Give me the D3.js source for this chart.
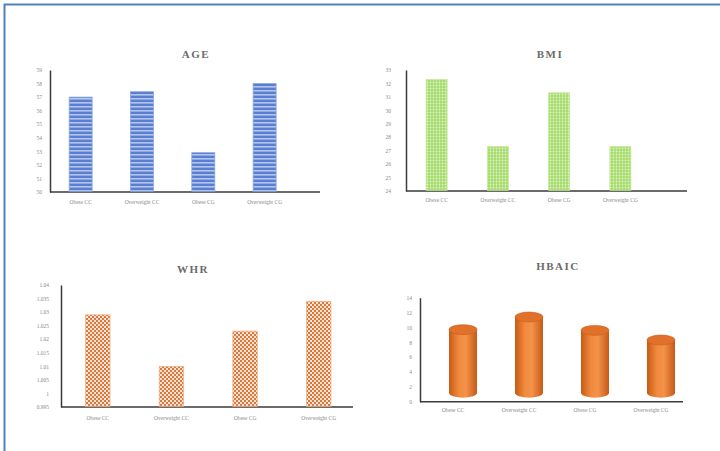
<!DOCTYPE html>
<html>
<head>
<meta charset="utf-8">
<script src="https://cdn.jsdelivr.net/npm/d3@7"></script>
<style>
  body { margin:0; background:#fff; }
  svg { display:block; }
</style>
</head>
<body>
<svg id="chart" width="720" height="451"></svg>
<script>
// datos
var categories = ["Obese CC","Overweight CC","Obese CG","Overweight CG"];

var ageValues = [57.0, 57.4, 52.9, 58.0];
var ageTicks = [50,51,52,53,54,55,56,57,58,59];

var bmiValues = [32.3, 27.3, 31.3, 27.3];
var bmiTicks = [24,25,26,27,28,29,30,31,32,33];

var whrValues = [1.029, 1.010, 1.023, 1.034];
var whrTicks = [0.995,1,1.005,1.01,1.015,1.02,1.025,1.03,1.035,1.04];

var hbaicValues = [9.7, 11.4, 9.6, 8.3];
var hbaicTicks = [0,2,4,6,8,10,12,14];

var svg = d3.select("#chart");
var defs = svg.append("defs");

// patrones de relleno
var pAge = defs.append("pattern").attr("id","pAge").attr("patternUnits","userSpaceOnUse")
  .attr("width",4).attr("height",4);
pAge.append("rect").attr("width",4).attr("height",4).attr("fill","#5a7fd0");
pAge.append("rect").attr("y",2).attr("width",4).attr("height",1.6).attr("fill","#b3c5ee");

var pBmi = defs.append("pattern").attr("id","pBmi").attr("patternUnits","userSpaceOnUse")
  .attr("width",3).attr("height",3);
pBmi.append("rect").attr("width",3).attr("height",3).attr("fill","#a6dc6c");
pBmi.append("circle").attr("cx",1.5).attr("cy",1.5).attr("r",0.9).attr("fill","#dff3c8");

var pWhr = defs.append("pattern").attr("id","pWhr").attr("patternUnits","userSpaceOnUse")
  .attr("width",4).attr("height",4);
pWhr.append("rect").attr("width",4).attr("height",4).attr("fill","#fbe3d2");
pWhr.append("rect").attr("width",2).attr("height",2).attr("fill","#d8783f");
pWhr.append("rect").attr("x",2).attr("y",2).attr("width",2).attr("height",2).attr("fill","#d8783f");

var gCyl = defs.append("linearGradient").attr("id","gCyl").attr("x1","0").attr("x2","1");
gCyl.append("stop").attr("offset","0").attr("stop-color","#c85a14");
gCyl.append("stop").attr("offset","0.35").attr("stop-color","#f08a3e");
gCyl.append("stop").attr("offset","0.6").attr("stop-color","#f4924a");
gCyl.append("stop").attr("offset","1").attr("stop-color","#c55a17");

// marco azul
svg.append("rect")
  .attr("x",4.5).attr("y",4.5).attr("width",730).attr("height",460)
  .attr("fill","none").attr("stroke","#4f81bd").attr("stroke-width",2);

var panels = [
  {title:"AGE", values:ageValues, ticks:ageTicks, domain:[50,59], x0:50, x1:295.3, axisEnd:320,
   yTop:70, yBot:192, barW:23, fill:"url(#pAge)", stroke:"#8aa6e0", titleX:196, titleY:58, catY:204, tickGap:8},
  {title:"BMI", values:bmiValues, ticks:bmiTicks, domain:[24,33], x0:406, x1:651, axisEnd:687,
   yTop:70, yBot:191, barW:21, fill:"url(#pBmi)", stroke:"#c4eb98", titleX:550, titleY:58, catY:202, tickGap:15},
  {title:"WHR", values:whrValues, ticks:whrTicks, domain:[0.995,1.04], x0:61, x1:355.5, axisEnd:353,
   yTop:285, yBot:407, barW:24.5, fill:"url(#pWhr)", stroke:"#f3b58a", titleX:193, titleY:273, catY:420, tickGap:12},
  {title:"HBAIC", values:hbaicValues, ticks:hbaicTicks, domain:[0,14], x0:420, x1:684, axisEnd:683,
   yTop:297.7, yBot:401.7, barW:28, cyl:true, titleX:558, titleY:270, catY:412, tickGap:8}
];

panels.forEach(function(p){
  var g = svg.append("g");
  var x = d3.scaleBand().domain(categories).range([p.x0,p.x1]);
  var y = d3.scaleLinear().domain(p.domain).range([p.yBot,p.yTop]);

  g.append("text").attr("x",p.titleX).attr("y",p.titleY)
    .attr("text-anchor","middle")
    .attr("font-family","Liberation Serif, serif").attr("font-size",11).attr("font-weight","bold")
    .attr("letter-spacing",1.5).attr("fill","#6b6b6b").text(p.title);

  // eje y
  var yAxis = d3.axisLeft(y).tickValues(p.ticks).tickSize(0).tickPadding(p.tickGap)
    .tickFormat(function(d){return String(d);});
  var ya = g.append("g").attr("transform","translate("+p.x0+",0)").call(yAxis);
  ya.select(".domain").attr("stroke","#3a3a3a").attr("stroke-width",1.5);
  ya.selectAll("text").attr("font-family","Liberation Serif, serif").attr("font-size",5.5).attr("fill","#8a8a8a");

  // eje x
  g.append("line").attr("x1",p.x0).attr("x2",p.axisEnd).attr("y1",p.yBot).attr("y2",p.yBot)
    .attr("stroke","#3a3a3a").attr("stroke-width",1.5);

  g.selectAll(".cat").data(categories).enter().append("text")
    .attr("x",function(d){return x(d)+x.bandwidth()/2;}).attr("y",p.catY)
    .attr("text-anchor","middle")
    .attr("font-family","Liberation Serif, serif").attr("font-size",5.5).attr("fill","#8a8a8a")
    .text(function(d){return d;});

  if(!p.cyl){
    g.selectAll(".bar").data(p.values).enter().append("rect")
      .attr("x",function(d,i){return x(categories[i])+x.bandwidth()/2-p.barW/2;})
      .attr("y",function(d){return y(d);})
      .attr("width",p.barW)
      .attr("height",function(d){return p.yBot-y(d)-0.75;})
      .attr("fill",p.fill).attr("stroke",p.stroke).attr("stroke-width",0.8);
  } else {
    var base = p.yBot - 9;
    var rx = p.barW/2, ry = 5;
    var cyl = g.selectAll(".cyl").data(p.values).enter().append("g")
      .attr("transform",function(d,i){return "translate("+(x(categories[i])+x.bandwidth()/2+10)+",0)";});
    cyl.append("path")
      .attr("d",function(d){
        var t = y(d);
        return "M"+(-rx)+","+t+" L"+(-rx)+","+base+
          " A"+rx+","+ry+" 0 0 0 "+rx+","+base+" L"+rx+","+t+" Z";
      })
      .attr("fill","url(#gCyl)");
    cyl.append("ellipse")
      .attr("cx",0).attr("cy",function(d){return y(d);})
      .attr("rx",rx).attr("ry",ry)
      .attr("fill","#e0702a").attr("stroke","#c9601c").attr("stroke-width",0.6);
  }
});
</script>
</body>
</html>
